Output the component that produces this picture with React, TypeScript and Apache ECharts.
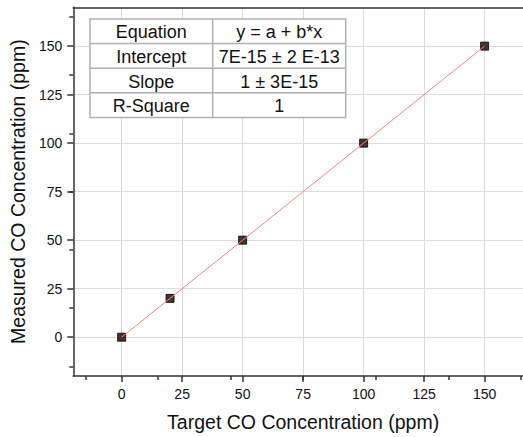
import React, { useEffect, useRef } from "react";
import * as echarts from "echarts";

const targetX = [0, 20, 50, 100, 150];
const measuredY = [0, 20, 50, 100, 150];
const fitX = [0, 150];
const fitY = [0, 150];
const tickValues = [0, 25, 50, 75, 100, 125, 150];
const tableRows = [
  ["Equation", "y = a + b*x"],
  ["Intercept", "7E-15 ± 2 E-13"],
  ["Slope", "1 ± 3E-15"],
  ["R-Square", "1"],
];
const xName = "Target CO Concentration (ppm)";
const yName = "Measured CO Concentration (ppm)";

export default function App() {
  const ref = useRef<HTMLDivElement>(null);
  useEffect(() => {
    const chart = echarts.init(ref.current!, undefined, { renderer: "svg" });
    const font = "Arial, 'Liberation Sans', sans-serif";
    const tx = 90, ty = 19, c1 = 122.7, c2 = 133, rh = 24.6;
    const gfx: any[] = [];
    gfx.push({
      type: "rect",
      shape: { x: tx, y: ty, width: c1 + c2, height: rh * 4 },
      style: { fill: "#fff", stroke: "#b0b0b0", lineWidth: 1.5 },
      z: 10,
    });
    gfx.push({
      type: "line",
      shape: { x1: tx + c1, y1: ty, x2: tx + c1, y2: ty + rh * 4 },
      style: { stroke: "#b0b0b0", lineWidth: 1.5 },
      z: 11,
    });
    for (let i = 1; i < 4; i++) {
      gfx.push({
        type: "line",
        shape: { x1: tx, y1: ty + rh * i, x2: tx + c1 + c2, y2: ty + rh * i },
        style: { stroke: "#b0b0b0", lineWidth: 1.5 },
        z: 11,
      });
    }
    tableRows.forEach((row, i) => {
      gfx.push({
        type: "text",
        x: tx + c1 / 2,
        y: ty + rh * i + rh / 2 + 1,
        style: { text: row[0], font: `18px ${font}`, fill: "#111", align: "center", verticalAlign: "middle" },
        z: 12,
      });
      gfx.push({
        type: "text",
        x: tx + c1 + c2 / 2,
        y: ty + rh * i + rh / 2 + 1,
        style: { text: row[1], font: `18px ${font}`, fill: "#111", align: "center", verticalAlign: "middle" },
        z: 12,
      });
    });
    chart.setOption({
      animation: false,
      backgroundColor: "#fff",
      textStyle: { fontFamily: font },
      grid: { left: 72.7, top: 7.3, right: 7, bottom: 58.3 },
      xAxis: [
        {
          type: "value",
          min: -20,
          max: 170,
          position: "bottom",
          name: xName,
          nameLocation: "middle",
          nameGap: 36,
          nameTextStyle: { fontSize: 19.5, color: "#111", fontFamily: font },
          axisLine: { show: true, onZero: false, lineStyle: { color: "#333", width: 1.5 } },
          axisTick: { show: true, length: 6, lineStyle: { color: "#333", width: 1.5 }, customValues: tickValues },
          minorTick: { show: true, splitNumber: 2, length: 4, lineStyle: { color: "#333", width: 1.5 } },
          axisLabel: { fontSize: 14, color: "#111", margin: 11, customValues: tickValues },
          splitLine: { show: true, lineStyle: { color: "#dcdcdc", width: 1 } },
        },
        {
          type: "value",
          min: -20,
          max: 170,
          position: "top",
          axisLine: { show: true, onZero: false, lineStyle: { color: "#333", width: 1.5 } },
          axisTick: { show: false },
          axisLabel: { show: false },
          splitLine: { show: false },
        },
      ],
      yAxis: {
        type: "value",
        min: -20,
        max: 170,
        name: yName,
        nameLocation: "middle",
        nameGap: 44,
        nameTextStyle: { fontSize: 19.5, color: "#111", fontFamily: font },
        axisLine: { show: true, onZero: false, lineStyle: { color: "#333", width: 1.5 } },
        axisTick: { show: true, length: 6, lineStyle: { color: "#333", width: 1.5 }, customValues: tickValues },
        minorTick: { show: true, splitNumber: 2, length: 4, lineStyle: { color: "#333", width: 1.5 } },
        axisLabel: { fontSize: 14, color: "#111", margin: 11, customValues: tickValues },
        splitLine: { show: true, lineStyle: { color: "#dcdcdc", width: 1 } },
      },
      graphic: gfx,
      series: [
        {
          type: "scatter",
          data: targetX.map((x, i) => [x, measuredY[i]]),
          symbol: "rect",
          symbolSize: 8,
          itemStyle: { color: "#1a0000", borderColor: "#000", borderWidth: 1 },
          z: 3,
        },
        {
          type: "line",
          data: fitX.map((x, i) => [x, fitY[i]]),
          showSymbol: false,
          symbol: "none",
          lineStyle: { color: "#ff8080", width: 1 },
          z: 4,
        },
      ],
    });
    return () => chart.dispose();
  }, []);
  return (
    <div style={{ position: "fixed", left: 0, top: 0, width: 523, height: 437, overflow: "hidden", background: "#fff" }}>
      <div ref={ref} style={{ width: 540, height: 437 }} />
    </div>
  );
}
